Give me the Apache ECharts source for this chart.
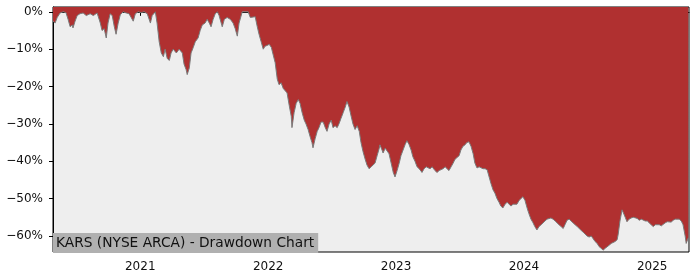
<!DOCTYPE html>
<html>
<head>
<meta charset="utf-8">
<script src="https://cdn.jsdelivr.net/npm/echarts@6/dist/echarts.min.js"></script>
<style>html,body{margin:0;padding:0;background:#fff}#c{width:700px;height:280px}</style>
</head>
<body>
<div id="c"></div>
<script>
var chartTitle = 'KARS (NYSE ARCA) - Drawdown Chart';
var yTicks = [0, -10, -20, -30, -40, -50, -60];
var dates = [
'2020-04-27','2020-05-03','2020-05-09','2020-05-17','2020-05-26','2020-06-03','2020-06-09','2020-06-15','2020-06-21','2020-06-23',
'2020-06-29','2020-07-05','2020-07-13','2020-07-22','2020-07-31','2020-08-11','2020-08-20','2020-08-31','2020-09-09','2020-09-14',
'2020-09-20','2020-09-26','2020-10-01','2020-10-07','2020-10-13','2020-10-19','2020-10-24','2020-10-30','2020-11-05','2020-11-13',
'2020-11-22','2020-11-30','2020-12-06','2020-12-12','2020-12-18','2020-12-26',
'2021-01-04','2021-01-12','2021-01-21','2021-01-30','2021-02-04','2021-02-13','2021-02-18','2021-02-24','2021-03-02','2021-03-08',
'2021-03-13','2021-03-19','2021-03-25','2021-03-30','2021-04-05','2021-04-14','2021-04-22','2021-05-01','2021-05-06','2021-05-12',
'2021-05-15','2021-05-21','2021-05-26','2021-06-01','2021-06-07','2021-06-15','2021-06-21','2021-06-27','2021-07-05','2021-07-11',
'2021-07-17','2021-07-22','2021-07-28','2021-08-03','2021-08-09','2021-08-14','2021-08-20','2021-08-23','2021-08-29','2021-09-06',
'2021-09-15','2021-09-23','2021-09-29','2021-10-05','2021-10-10','2021-10-19','2021-10-27','2021-11-05','2021-11-11','2021-11-16',
'2021-11-25','2021-12-01','2021-12-06','2021-12-12','2021-12-18','2021-12-23','2021-12-29',
'2022-01-04','2022-01-10','2022-01-15','2022-01-21','2022-01-27','2022-02-01','2022-02-07','2022-02-13','2022-02-18','2022-02-24',
'2022-03-02','2022-03-08','2022-03-10','2022-03-16','2022-03-22','2022-03-28','2022-04-02','2022-04-08','2022-04-14','2022-04-19',
'2022-04-25','2022-05-01','2022-05-06','2022-05-09','2022-05-15','2022-05-21','2022-05-26','2022-06-01','2022-06-07','2022-06-13',
'2022-06-18','2022-06-24','2022-06-30','2022-07-05','2022-07-11','2022-07-17','2022-07-22','2022-07-28','2022-08-03','2022-08-09',
'2022-08-14','2022-08-20','2022-08-26','2022-08-31','2022-09-06','2022-09-12','2022-09-18','2022-09-23','2022-09-29','2022-10-05',
'2022-10-10','2022-10-16','2022-10-22','2022-10-27','2022-11-02','2022-11-08','2022-11-14','2022-11-16','2022-11-22','2022-11-25',
'2022-12-01','2022-12-06','2022-12-12','2022-12-18','2022-12-24','2022-12-29',
'2023-01-04','2023-01-10','2023-01-15','2023-01-21','2023-01-27','2023-02-01','2023-02-07','2023-02-13','2023-02-18','2023-02-24',
'2023-03-02','2023-03-08','2023-03-16','2023-03-22','2023-03-28','2023-04-02','2023-04-08','2023-04-14','2023-04-22','2023-04-28',
'2023-05-04','2023-05-09','2023-05-15','2023-05-21','2023-05-26','2023-06-01','2023-06-07','2023-06-13','2023-06-18','2023-06-24',
'2023-06-30','2023-07-05','2023-07-11','2023-07-17','2023-07-22','2023-07-28','2023-08-03','2023-08-09','2023-08-14','2023-08-20',
'2023-08-26','2023-08-31','2023-09-06','2023-09-12','2023-09-18','2023-09-23','2023-09-29','2023-10-05','2023-10-10','2023-10-16',
'2023-10-22','2023-10-27','2023-11-02','2023-11-08','2023-11-14','2023-11-19','2023-11-25','2023-12-01','2023-12-06','2023-12-12',
'2023-12-18','2023-12-23','2023-12-29',
'2024-01-04','2024-01-10','2024-01-15','2024-01-21','2024-01-27','2024-02-01','2024-02-07','2024-02-13','2024-02-19','2024-02-24',
'2024-03-01','2024-03-07','2024-03-12','2024-03-18','2024-03-24','2024-03-30','2024-04-04','2024-04-10','2024-04-16','2024-04-22',
'2024-04-27','2024-05-03','2024-05-09','2024-05-14','2024-05-20','2024-05-26','2024-06-01','2024-06-06','2024-06-12','2024-06-18',
'2024-06-23','2024-06-29','2024-07-05','2024-07-11','2024-07-16','2024-07-22','2024-07-28','2024-08-02','2024-08-08','2024-08-14',
'2024-08-20','2024-08-25','2024-08-31','2024-09-06','2024-09-11','2024-09-17','2024-09-23','2024-09-26','2024-10-01','2024-10-07',
'2024-10-10','2024-10-16','2024-10-21','2024-10-27','2024-11-02','2024-11-08','2024-11-13','2024-11-19','2024-11-25','2024-12-01',
'2024-12-06','2024-12-12','2024-12-18','2024-12-23','2024-12-29',
'2025-01-04','2025-01-10','2025-01-15','2025-01-21','2025-01-27','2025-02-01','2025-02-07','2025-02-13','2025-02-18','2025-02-24',
'2025-03-02','2025-03-08','2025-03-13','2025-03-19','2025-03-25','2025-03-30','2025-04-05','2025-04-08','2025-04-14'
];
var drawdown = [
-2.5,-3,-1.5,-0.3,0,-0.2,-2,-4,-3.5,-4.3,
-2.5,-1,-0.5,-0.3,-1,-0.5,-1,-0.3,-3,-5,
-4.5,-7,-3,-0.5,-1,-4,-6,-3,-0.8,0,
-0.3,-0.5,-1.5,-2.5,-0.5,0,
-0.2,0,-0.5,-3,-1,0,-3,-8,-11,-12,
-10,-12.5,-13,-11,-10,-11,-10,-11,-14,-15.5,
-16.8,-15,-11,-9.6,-8,-7,-5,-3.5,-3,-2,
-3,-4,-2,-0.5,0,-1,-3,-4,-2,-1.5,
-2,-3,-4.5,-6.5,-3,0,0,0,-1.5,-2,
-1.3,-4,-6,-8,-10,-9.2,-9,
-8.7,-9.5,-9,-13.6,-18,-19.5,-19,-20.5,-21,-21.7,
-25,-28,-31,-27,-24.5,-23.5,-24.5,-27,-29,-30,
-31.5,-33.5,-35,-36.4,-34,-32,-31,-29.5,-29.5,-31,
-32,-30,-29,-31,-30.5,-31,-30,-28.5,-27,-25.5,
-24,-25.5,-28,-30,-31.5,-30.5,-32,-35,-37.5,-39.5,
-41,-42,-41.5,-41,-40.5,-38.5,-36.5,-35.6,-37,-37.8,
-36.5,-36,-38,-40.5,-43,-44.2,
-42.5,-40.5,-38.5,-37,-35.5,-34.5,-35.5,-37,-38.8,-40,
-41.5,-42,-43,-42,-41.5,-41,-42,-41.5,-42.5,-43,
-42.5,-42,-42,-41.5,-42,-42.5,-41.5,-40.5,-39.5,-39,
-38.5,-37,-36,-35.6,-35,-34.8,-36,-38,-40.5,-41.8,
-41.5,-41.5,-42,-42,-42.3,-44,-46,-47.7,-48.5,-50,
-51,-52,-52.5,-51.5,-51,-51.5,-52,-51.5,-52,-51.5,
-50.5,-50,-49.5,
-50.5,-52.5,-54,-55.5,-56.5,-57.5,-58.4,-57.5,-57,-56.5,
-56,-55.5,-55,-55.2,-55.5,-56,-56,-57,-57.5,-58,
-57,-55.8,-55.5,-56,-56.5,-57,-57.5,-58,-58.5,-59,
-59.5,-60,-60.3,-60,-60.5,-61.5,-62,-62.8,-63.3,-63.8,
-63.3,-62.8,-62.5,-62,-61.8,-61.5,-61,-59.5,-56,-53,
-52.8,-55,-56.2,-55.5,-55.2,-55,-55.5,-55.3,-55.8,-55.5,
-55.8,-56,-56,-56.5,-57,
-57.5,-57,-57.3,-57,-57.3,-56.8,-56.5,-56.2,-56,-56.3,
-55.8,-55.5,-55.2,-55.5,-56,-57,-60,-62,-60.5
];

var seriesData = dates.map(function (d, i) { return [d, drawdown[i]]; });
var font = 'DejaVu Sans';
var chart = echarts.init(document.getElementById('c'), null, {renderer: 'canvas'});
chart.setOption({
  animation: false,
  backgroundColor: '#ffffff',
  grid: {left: 53, right: 11, top: 7, bottom: 28, show: true, backgroundColor: '#eeeeee', borderColor: '#000', borderWidth: 1},
  title: {
    text: chartTitle, left: 53, top: 233, padding: [2, 4, 2, 3],
    backgroundColor: '#b0b0b0',
    textStyle: {fontFamily: font, fontSize: 13.75, fontWeight: 'normal', color: '#111', lineHeight: 16}
  },
  xAxis: {
    type: 'time',
    min: '2020-04-27', max: '2025-04-16',
    minInterval: 365 * 24 * 3600 * 1000, maxInterval: 366 * 24 * 3600 * 1000,
    splitLine: {show: false},
    axisLine: {lineStyle: {color: '#000', width: 1}},
    axisTick: {show: true, length: 4, lineStyle: {color: '#000'}},
    axisLabel: {fontFamily: font, fontSize: 12, color: '#111', margin: 9, hideOverlap: false,
      formatter: function (v) { var d = new Date(v); return String(d.getFullYear()); }}
  },
  yAxis: {
    type: 'value',
    min: -64.3, max: 1.3,
    splitLine: {show: false},
    axisLine: {show: true, lineStyle: {color: '#000', width: 1}},
    axisTick: {show: true, length: 4, lineStyle: {color: '#000'}, customValues: yTicks},
    axisLabel: {fontFamily: font, fontSize: 12, color: '#111', margin: 10, customValues: yTicks,
      formatter: function (v) {
        return (v < 0 ? '\u2212' : '') + Math.abs(v) + '%';
      }}
  },
  series: [{
    type: 'line',
    data: seriesData,
    showSymbol: false,
    symbol: 'none',
    lineStyle: {color: '#7a7a7a', width: 1},
    areaStyle: {color: '#b03030', opacity: 1, origin: 'end'}
  }]
});
</script>
</body>
</html>
